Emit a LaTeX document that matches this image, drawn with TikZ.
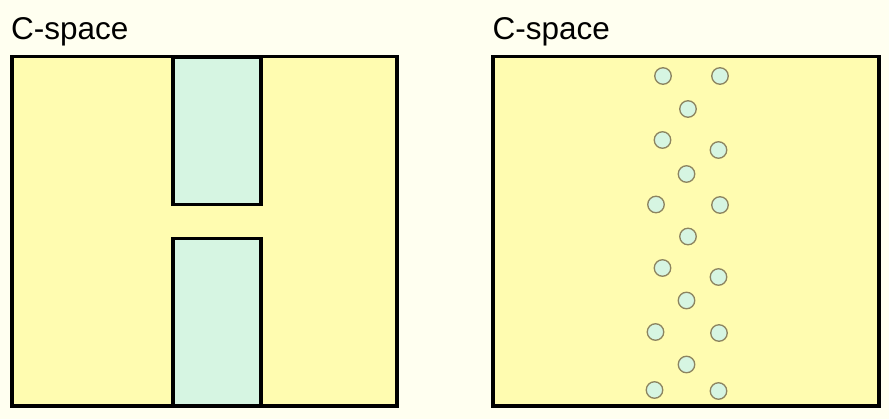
\documentclass[tikz,border=0pt]{standalone}
\usepackage{fontspec}
\setmainfont{Liberation Sans}
\definecolor{bgcol}{RGB}{255,255,240}
\definecolor{cspace}{RGB}{255,252,176}
\definecolor{obst}{RGB}{214,245,226}
\definecolor{sampedge}{RGB}{140,132,96}
\tikzset{
  frame/.style={draw=black, line width=3.5pt, fill=cspace},
  obstacle/.style={draw=black, line width=3.5pt, fill=obst},
  sample/.style={circle, draw=sampedge, line width=1.3pt, fill=obst, minimum size=16.5pt, inner sep=0pt},
  title/.style={anchor=base west, inner sep=0pt, font=\fontsize{31.5}{36}\selectfont}
}
\begin{document}
\begin{tikzpicture}[x=1pt,y=-1pt]
\fill[bgcol] (0,0) rectangle (889,419);
\useasboundingbox (0,0) rectangle (889,419);
% left
\node[title] (t1) at (11,40) {C-space};
\draw[frame] (12,56.5) rectangle (397,406);
\draw[obstacle] (173,57) rectangle (261,204.5);
\draw[obstacle] (173,238.5) rectangle (261,406);
% right
\node[title] (t2) at (492.5,40) {C-space};
\draw[frame] (493,56.5) rectangle (879,406);
\foreach \i/\x/\y in {1/663/76, 2/720/76, 3/688/109, 4/662.5/140, 5/718.5/150, 6/686.5/174,
  7/656/204.5, 8/720/205, 9/688/236.5, 10/662.5/268, 11/718.5/277, 12/686.5/300.5,
  13/655.5/332, 14/719/333, 15/686.5/364.5, 16/654.5/390, 17/718.5/391}
  \node[sample] (s\i) at (\x,\y) {};
\end{tikzpicture}
\end{document}
